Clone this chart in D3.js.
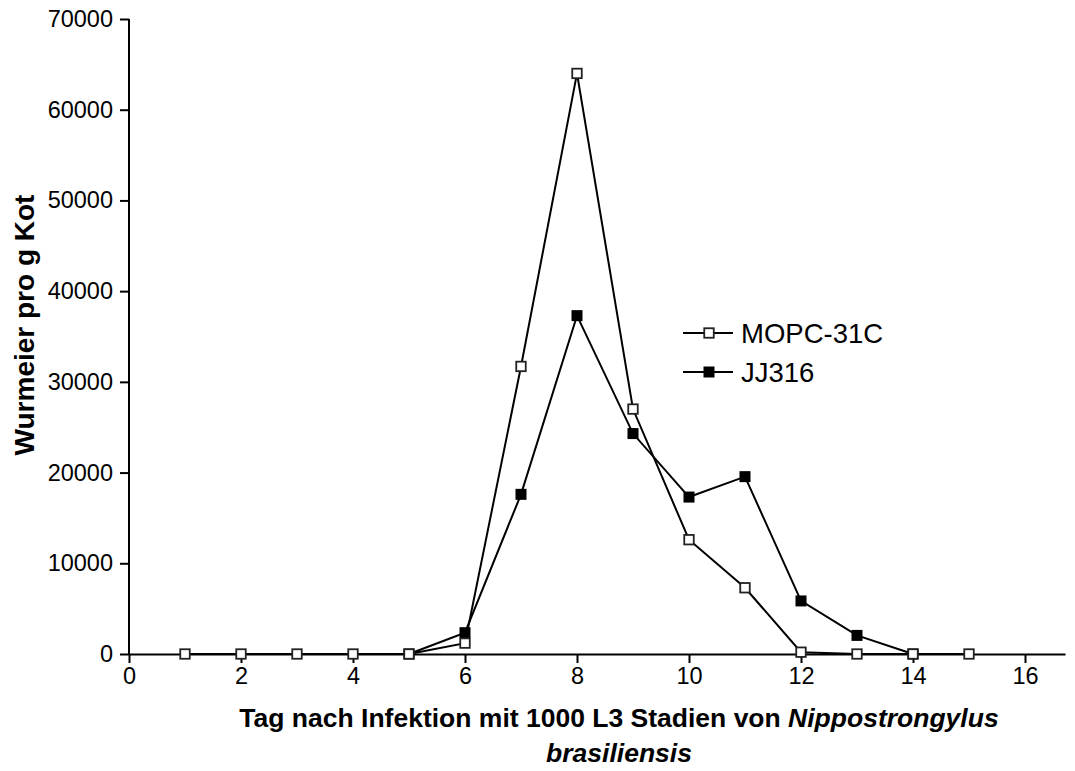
<!DOCTYPE html>
<html>
<head>
<meta charset="utf-8">
<script src="https://cdn.jsdelivr.net/npm/d3@7"></script>
<style>
  html, body { margin: 0; padding: 0; background: #fff; }
  svg { display: block; font-family: "Liberation Sans", Arial, sans-serif; }
</style>
</head>
<body>
<svg id="chart" width="1075" height="771"></svg>
<script>
// ---- data ----
const daysMOPC = [1, 2, 3, 4, 5, 6, 7, 8, 9, 10, 11, 12, 13, 14, 15];
const valuesMOPC = [0, 0, 0, 0, 0, 1200, 31700, 64000, 27000, 12600, 7300, 200, 0, 0, 0];
const daysJJ = [5, 6, 7, 8, 9, 10, 11, 12, 13, 14];
const valuesJJ = [0, 2350, 17600, 37300, 24300, 17300, 19550, 5850, 2050, 0];
const seriesNames = ["MOPC-31C", "JJ316"];
const xTicks = [0, 2, 4, 6, 8, 10, 12, 14, 16];
const yTicks = [0, 10000, 20000, 30000, 40000, 50000, 60000, 70000];
const xTitle1 = "Tag nach Infektion mit 1000 L3 Stadien von ";
const xTitleItalic1 = "Nippostrongylus";
const xTitleItalic2 = "brasiliensis";
const yTitle = "Wurmeier pro g Kot";

// ---- layout ----
const svg = d3.select("#chart");
const x0 = 129, x1 = 1065, y0 = 654, yTop = 19;
const x = d3.scaleLinear().domain([0, (x1 - x0) / 56]).range([x0, x1]);
const y = d3.scaleLinear().domain([0, 70000]).range([y0, yTop]);

// axes
const xAxis = d3.axisBottom(x).tickValues(xTicks).tickSize(9).tickPadding(4).tickSizeOuter(0).tickFormat(d3.format("d"));
const yAxis = d3.axisLeft(y).tickValues(yTicks).tickSize(9).tickPadding(7).tickSizeOuter(0).tickFormat(d3.format("d"));

const gx = svg.append("g").attr("transform", `translate(0,${y0})`).call(xAxis);
const gy = svg.append("g").attr("transform", `translate(${x0},0)`).call(yAxis);
[gx, gy].forEach(g => {
  g.attr("font-size", null).attr("font-family", null);
  g.select(".domain").attr("stroke", "#000").attr("stroke-width", 2);
  g.selectAll(".tick line").attr("stroke", "#000").attr("stroke-width", 2);
  g.selectAll(".tick text").attr("fill", "#000").style("font-size", "23.5px")
    .style("font-family", "'Liberation Sans', Arial, sans-serif");
});
gy.select(".domain").attr("d", `M0,${y0}V${yTop}`);

// lines
const line = d3.line().x(d => x(d[0])).y(d => y(d[1]));
const dataJJ = daysJJ.map((d, i) => [d, valuesJJ[i]]);
const dataMOPC = daysMOPC.map((d, i) => [d, valuesMOPC[i]]);

svg.append("path").datum(dataJJ).attr("d", line)
  .attr("fill", "none").attr("stroke", "#000").attr("stroke-width", 2);
svg.append("path").datum(dataMOPC).attr("d", line)
  .attr("fill", "none").attr("stroke", "#000").attr("stroke-width", 2);

// markers
const sF = 11, sO = 9.5;
svg.append("g").selectAll("rect").data(dataJJ).join("rect")
  .attr("x", d => x(d[0]) - sF / 2).attr("y", d => y(d[1]) - sF / 2)
  .attr("width", sF).attr("height", sF).attr("fill", "#000");
svg.append("g").selectAll("rect").data(dataMOPC).join("rect")
  .attr("x", d => x(d[0]) - sO / 2).attr("y", d => y(d[1]) - sO / 2)
  .attr("width", sO).attr("height", sO).attr("fill", "#fff")
  .attr("stroke", "#222").attr("stroke-width", 1.8);

// legend
const leg = svg.append("g");
const legY = [333, 372];
seriesNames.forEach((name, i) => {
  const ly = legY[i];
  leg.append("line").attr("x1", 683).attr("x2", 733).attr("y1", ly).attr("y2", ly)
    .attr("stroke", "#000").attr("stroke-width", 2);
  if (i === 0) {
    leg.append("rect").attr("x", 709 - sO / 2).attr("y", ly - sO / 2).attr("width", sO).attr("height", sO)
      .attr("fill", "#fff").attr("stroke", "#222").attr("stroke-width", 1.8);
  } else {
    leg.append("rect").attr("x", 709 - sF / 2).attr("y", ly - sF / 2).attr("width", sF).attr("height", sF)
      .attr("fill", "#000");
  }
  leg.append("text").attr("x", 741).attr("y", ly).attr("dy", "0.36em")
    .style("font-size", "27.5px").attr("fill", "#000").text(name);
});

// x title
const xt = svg.append("text").attr("x", 619).attr("y", 727).attr("text-anchor", "middle")
  .style("font-size", "26.5px").style("font-weight", "bold").attr("fill", "#000");
xt.append("tspan").text(xTitle1);
xt.append("tspan").style("font-style", "italic").text(xTitleItalic1);
svg.append("text").attr("x", 619).attr("y", 762).attr("text-anchor", "middle")
  .style("font-size", "26.5px").style("font-weight", "bold").style("font-style", "italic")
  .attr("fill", "#000").text(xTitleItalic2);

// y title
svg.append("text").attr("transform", "translate(34,325) rotate(-90)").attr("text-anchor", "middle")
  .style("font-size", "28px").style("font-weight", "bold").attr("fill", "#000").text(yTitle);
</script>
</body>
</html>
